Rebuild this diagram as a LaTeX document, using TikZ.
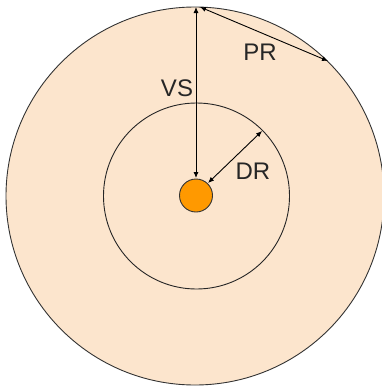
\documentclass[tikz,border=0pt]{standalone}
\usepackage{fontspec}
\setmainfont{Liberation Sans}
\usetikzlibrary{arrows.meta}
\definecolor{peach}{HTML}{FCE5CD}
\definecolor{sun}{HTML}{FF9900}
\tikzset{
  dim/.style={draw=black, line width=0.9pt, {Latex[length=6pt,width=5pt]}-{Latex[length=6pt,width=5pt]}},
  lbl/.style={font=\fontsize{24}{28}\selectfont, text=black!85, inner sep=0pt}
}
\begin{document}
\begin{tikzpicture}[x=1pt,y=-1pt]
\useasboundingbox (0,0) rectangle (382,388);
\fill[white] (0,0) rectangle (382,388);
\node[circle, draw=black!80, line width=0.9pt, fill=peach, minimum size=378pt, inner sep=0pt] (outer) at (195,196) {};
\node[circle, draw=black!85, line width=0.9pt, minimum size=186pt, inner sep=0pt] (inner) at (196.5,196) {};
\node[circle, draw=black!80, line width=0.9pt, fill=sun, minimum size=33pt, inner sep=0pt] (sun) at (196,195.5) {};
\coordinate (vsTop) at (196,7);
\coordinate (vsBot) at (196,178);
\coordinate (prA) at (200,7);
\coordinate (prB) at (328,61);
\coordinate (drA) at (208,183);
\coordinate (drB) at (262,131);
\draw[dim] (vsTop) -- (vsBot);
\draw[dim] (prA) -- (prB);
\draw[dim] (drA) -- (drB);
\node[lbl] (vs) at (177,88) {VS};
\node[lbl] (pr) at (260,52) {PR};
\node[lbl] (dr) at (253,171) {DR};
\end{tikzpicture}
\end{document}
